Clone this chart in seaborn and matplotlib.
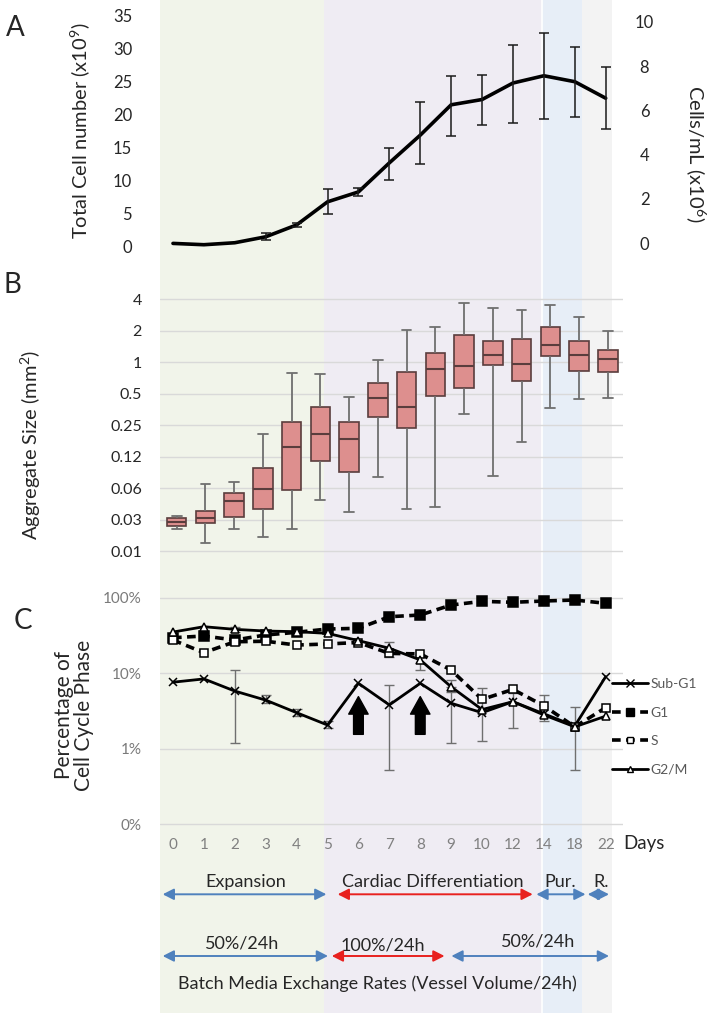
import numpy as np
import pandas as pd
import matplotlib
matplotlib.use("Agg")
import matplotlib.pyplot as plt
from matplotlib.lines import Line2D
from matplotlib.ticker import NullLocator
import seaborn as sns

# ---------------- data ----------------
days = ["0", "1", "2", "3", "4", "5", "6", "7", "8", "9", "10", "12", "14", "18", "22"]

# Panel A: total cell number (x10^9) and error-bar ends
total_cells = [0.5, 0.3, 0.6, 1.5, 3.3, 6.8, 8.3, 12.7, 16.9, 21.5, 22.3, 24.8, 25.9, 25.0, 22.5]
cells_err_low = [np.nan, np.nan, np.nan, 1.0, 3.0, 4.9, 7.7, 10.1, 12.5, 16.8, 18.4, 18.8, 19.3, 19.6, 17.9]
cells_err_high = [np.nan, np.nan, np.nan, 2.0, 3.6, 8.7, 8.9, 15.0, 21.9, 25.9, 26.0, 30.6, 32.4, 30.3, 27.3]
left_ticks = [0, 5, 10, 15, 20, 25, 30, 35]
right_ticks = [0, 2, 4, 6, 8, 10]

# Panel B: aggregate size box statistics (mm^2)
box_samples = ["0", "1", "2", "3", "4", "5", "6", "7", "8", "9", "10", "11", "12", "14", "18", "22"]
box_low = [0.0252, 0.0188, 0.0252, 0.0214, 0.0252, 0.048, 0.0372, 0.0799, 0.0396, 0.0414, 0.320, 0.0815, 0.174, 0.362, 0.445, 0.455]
box_q1 = [0.0273, 0.0288, 0.0328, 0.0392, 0.0602, 0.113, 0.0897, 0.299, 0.236, 0.475, 0.570, 0.947, 0.657, 1.14, 0.829, 0.812]
box_med = [0.0294, 0.0325, 0.0470, 0.0616, 0.154, 0.207, 0.184, 0.455, 0.370, 0.856, 0.926, 1.18, 0.955, 1.47, 1.17, 1.07]
box_q3 = [0.0321, 0.0380, 0.0564, 0.0981, 0.266, 0.370, 0.266, 0.637, 0.806, 1.23, 1.82, 1.59, 1.66, 2.19, 1.59, 1.32]
box_high = [0.0340, 0.0680, 0.0710, 0.206, 0.794, 0.772, 0.465, 1.05, 2.03, 2.19, 3.66, 3.32, 3.18, 3.50, 2.71, 2.0]
b_tick_values = [4, 2, 1, 0.5, 0.25, 0.125, 0.0625, 0.03125, 0.015625]
b_tick_labels = ["4", "2", "1", "0.5", "0.25", "0.12", "0.06", "0.03", "0.01"]

# Panel C: cell cycle phase percentages
subg1 = [7.6, 8.4, 5.8, 4.4, 3.0, 2.06, 7.35, 3.8, 7.35, 4.0, 3.0, 4.2, 2.9, 2.0, 9.0]
g1 = [29.5, 31.1, 27.5, 32.1, 34.8, 38.5, 39.3, 56, 59, 80, 89.5, 86.9, 90.4, 93.2, 84.3]
s_phase = [27.5, 18.7, 26.1, 26.5, 23.6, 24.4, 25.5, 18.3, 18.0, 11.0, 4.5, 6.1, 3.7, 1.95, 3.5]
g2m = [35.1, 41.3, 38.1, 36.2, 35.5, 33.7, 27.0, 21.4, 15.0, 6.6, 3.3, 4.2, 2.8, 1.95, 2.7]
subg1_err_low = [np.nan, np.nan, 1.18, 4.0, 2.7, 1.9, np.nan, 0.53, np.nan, 1.18, 1.28, 1.86, 2.35, 0.52, np.nan]
subg1_err_high = [np.nan, np.nan, 10.9, 5.2, 3.4, 2.3, np.nan, 7.0, np.nan, 6.6, 6.3, 5.4, 5.1, 3.6, np.nan]
g2m_err_low = [np.nan, np.nan, 35.0, np.nan, np.nan, np.nan, np.nan, 16.5, 11.0, 5.7, np.nan, np.nan, np.nan, np.nan, np.nan]
g2m_err_high = [np.nan, np.nan, 41.0, np.nan, np.nan, np.nan, np.nan, 26.0, 17.4, 8.1, np.nan, np.nan, np.nan, np.nan, np.nan]
c_tick_values = [100, 10, 1, 0.1]
c_tick_labels = ["100%", "10%", "1%", "0%"]
phase_names = ["Sub-G1", "G1", "S", "G2/M"]
arrow_days = ["6", "8"]

# ---------------- layout ----------------
sns.set_theme(style="white")
plt.rcParams['font.family'] = ['Lato', 'DejaVu Sans']
plt.rcParams['mathtext.default'] = 'regular'

W, H = 709, 1013
fig = plt.figure(figsize=(W / 100, H / 100), dpi=100)


def rect(x0, x1, ytop, ybot):
    return [x0 / W, 1 - ybot / H, (x1 - x0) / W, (ybot - ytop) / H]


TXT = '#262626'

bg = fig.add_axes([0, 0, 1, 1])
bg.set_xlim(0, W)
bg.set_ylim(H, 0)
bg.axis('off')
for x0, x1, c in [(160, 324, '#f1f4ea'), (324, 542, '#efecf3'),
                  (542, 582, '#e7eef7'), (582, 612, '#f3f3f3')]:
    bg.axvspan(x0, x1, color=c, lw=0)
bg.axvline(542, color='white', lw=1.2)

pos = np.arange(len(days))

# ---------------- Panel A ----------------
axA = fig.add_axes(rect(160, 623, 15.7, 246.7))
axA.set_facecolor('none')
sns.lineplot(x=pos, y=total_cells, color='black', lw=2.6, ax=axA)
lo = np.array(cells_err_low); hi = np.array(cells_err_high); tc = np.array(total_cells)
m = ~np.isnan(lo)
axA.errorbar(pos[m], tc[m], yerr=[tc[m] - lo[m], hi[m] - tc[m]], fmt='none',
             ecolor='#1a1a1a', elinewidth=1.1, capsize=3.5, capthick=1.1)
axA.set_xlim(-0.42, 14.56)
axA.set_ylim(0, 35)
axA.set_yticks(left_ticks)
axA.set_xticks([])
axA.tick_params(axis='y', length=0, pad=20, labelsize=12, labelcolor=TXT)
for sp in axA.spines.values():
    sp.set_visible(False)

axA2 = axA.twinx()
axA2.set_ylim(-0.153, 10.27)
axA2.set_yticks(right_ticks)
axA2.tick_params(axis='y', length=0, pad=15.5, labelsize=12, labelcolor=TXT)
for lbl in axA2.get_yticklabels():
    lbl.set_ha('center')
for sp in axA2.spines.values():
    sp.set_visible(False)

# ---------------- Panel B ----------------
axB = fig.add_axes(rect(160, 623, 286.7, 563.6))
axB.set_facecolor('none')
axB.set_yscale('log', base=2)
dfB = pd.DataFrame({
    'sample': np.repeat(box_samples, 5),
    'size': np.column_stack([box_low, box_q1, box_med, box_q3, box_high]).ravel(),
})
sns.boxplot(data=dfB, x='sample', y='size', order=box_samples, ax=axB,
            width=0.68, whis=(0, 100), showfliers=False, color='#dd8f8e',
            saturation=1, linecolor='#5a3d3d', linewidth=1.2,
            whiskerprops=dict(color='#6f6f6f', linewidth=1.3),
            capprops=dict(color='#6f6f6f', linewidth=1.3),
            medianprops=dict(color='#5a3d3d', linewidth=1.5))
axB.set_xlim(-0.58, 15.53)
axB.set_ylim(2 ** -6.4, 2 ** 2.4)
axB.set_yticks(b_tick_values)
axB.set_yticklabels(b_tick_labels)
axB.yaxis.set_minor_locator(NullLocator())
axB.set_xticks([])
axB.set_xlabel('')
axB.set_ylabel('')
axB.yaxis.grid(True, color='#d9d9d9', lw=1)
axB.set_axisbelow(True)
axB.tick_params(axis='y', length=0, pad=13, labelsize=11.5, labelcolor=TXT)
for sp in axB.spines.values():
    sp.set_visible(False)

# ---------------- Panel C ----------------
axC = fig.add_axes(rect(160, 623, 589.1, 825.9))
axC.set_facecolor('none')
axC.set_yscale('log')

styles = {
    "Sub-G1": dict(data=subg1, ls='-', lw=2.0, marker='x', ms=6, mfc='black'),
    "G1": dict(data=g1, ls=(0, (2.4, 1.5)), lw=2.6, marker='s', ms=6.5, mfc='black'),
    "S": dict(data=s_phase, ls=(0, (2.4, 1.5)), lw=2.6, marker='s', ms=5.5, mfc='white'),
    "G2/M": dict(data=g2m, ls='-', lw=2.0, marker='^', ms=5.5, mfc='white'),
}
for name in phase_names:
    st = styles[name]
    sns.lineplot(x=pos, y=st['data'], ax=axC, color='black', linestyle=st['ls'],
                 lw=st['lw'], marker=st['marker'], markersize=st['ms'],
                 markerfacecolor=st['mfc'], markeredgecolor='black', markeredgewidth=1.1)

for vals, elo, ehi in [(subg1, subg1_err_low, subg1_err_high), (g2m, g2m_err_low, g2m_err_high)]:
    v = np.array(vals); l = np.array(elo); h = np.array(ehi)
    mm = ~np.isnan(l)
    axC.errorbar(pos[mm], v[mm], yerr=[v[mm] - l[mm], h[mm] - v[mm]], fmt='none',
                 ecolor='#6f6f6f', elinewidth=1.0, capsize=3.5, capthick=1.0, zorder=1)

for d in arrow_days:
    p = days.index(d)
    axC.annotate('', xy=(p, 4.9), xytext=(p, 1.55),
                 arrowprops=dict(arrowstyle='simple,head_length=0.9,head_width=1.0,tail_width=0.5',
                                 color='black', mutation_scale=14, shrinkA=0, shrinkB=0))

axC.set_xlim(-0.42, 14.56)
axC.set_ylim(0.095, 130)
axC.set_yticks(c_tick_values)
axC.set_yticklabels(c_tick_labels)
axC.yaxis.set_minor_locator(NullLocator())
axC.set_xticks(pos)
axC.set_xticklabels(days)
axC.yaxis.grid(True, color='#d9d9d9', lw=1)
axC.xaxis.grid(False)
axC.set_axisbelow(True)
axC.tick_params(axis='y', length=0, pad=13, labelsize=11, labelcolor='#7a7a7a')
axC.tick_params(axis='x', length=0, pad=9, labelsize=11, labelcolor='#808080')
for sp in axC.spines.values():
    sp.set_visible(False)

handles = []
for name in phase_names:
    st = styles[name]
    handles.append(Line2D([], [], color='black', linestyle=st['ls'], lw=st['lw'],
                          marker=st['marker'], markersize=st['ms'] * 0.85,
                          markerfacecolor=st['mfc'], markeredgecolor='black', markeredgewidth=1.0))
axC.legend(handles, phase_names, loc='upper left', bbox_to_anchor=(612 / W, 1 - 678 / H),
           bbox_transform=fig.transFigure, frameon=False, handlelength=2.6,
           handletextpad=0.15, labelspacing=1.2, fontsize=10, borderpad=0,
           borderaxespad=0, labelcolor='#595959')

# ---------------- text ----------------
bg.text(15, 28, 'A', fontsize=20, ha='center', va='center', color=TXT)
bg.text(12, 285, 'B', fontsize=20, ha='center', va='center', color=TXT)
bg.text(23, 621, 'C', fontsize=20, ha='center', va='center', color=TXT)

bg.text(80, 131, 'Total Cell number (x10$^9$)', rotation=90, fontsize=14.5, ha='center', va='center', color=TXT)
bg.text(696, 154, 'Cells/mL (x10$^6$)', rotation=270, fontsize=14.5, ha='center', va='center', color=TXT)
bg.text(31, 445, 'Aggregate Size (mm$^2$)', rotation=90, fontsize=14.5, ha='center', va='center', color=TXT)
bg.text(74, 715, 'Percentage of\nCell Cycle Phase', rotation=90, fontsize=15, ha='center',
        va='center', multialignment='center', color=TXT, linespacing=1.05)
bg.text(644, 843, 'Days', fontsize=13.5, ha='center', va='center', color=TXT)

BLUE = '#4f81bd'
RED = '#e8211f'
labels_row1 = [("Expansion", 245.5), ("Cardiac Differentiation", 433), ("Pur.", 560.5), ("R.", 601)]
for t, x in labels_row1:
    bg.text(x, 881.7, t, fontsize=13, ha='center', va='center', color=TXT)
labels_row2 = [("50%/24h", 242, 943.3), ("100%/24h", 383, 945), ("50%/24h", 537.7, 941.7)]
for t, x, y in labels_row2:
    bg.text(x, y, t, fontsize=13, ha='center', va='center', color=TXT)
bg.text(377, 983.3, 'Batch Media Exchange Rates (Vessel Volume/24h)', fontsize=13,
        ha='center', va='center', color=TXT)

arrows = [(162.7, 326.4, 894.3, BLUE), (337.7, 532.7, 894.3, RED), (536.4, 585.5, 894.3, BLUE),
          (587.7, 609, 894.3, BLUE), (162.7, 328, 956, BLUE), (331.8, 444.5, 956, RED),
          (451.4, 609, 956, BLUE)]
for x0, x1, y, c in arrows:
    bg.annotate('', xy=(x1, y), xytext=(x0, y),
                arrowprops=dict(arrowstyle='<|-|>,head_length=0.55,head_width=0.28', color=c,
                                lw=1.4, shrinkA=0, shrinkB=0, mutation_scale=12))

fig.savefig('out.png', dpi=100)
